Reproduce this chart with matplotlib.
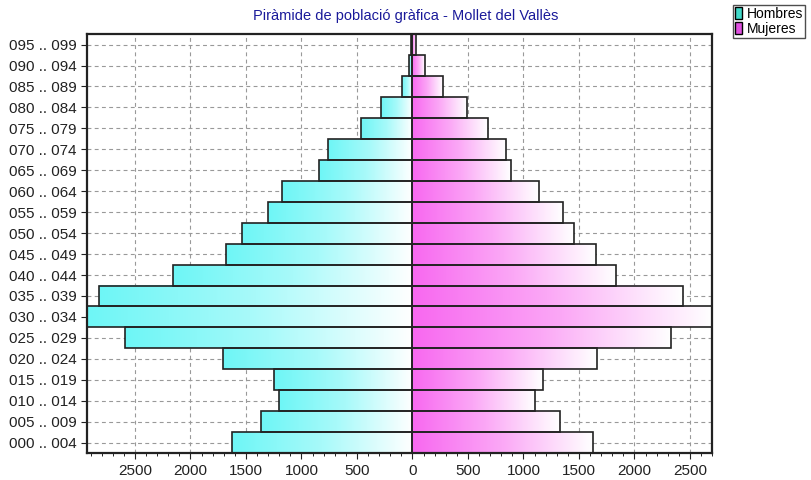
import numpy as np
import matplotlib
matplotlib.use("Agg")
import matplotlib.pyplot as plt
from matplotlib.colors import LinearSegmentedColormap
from matplotlib.patches import Patch
from matplotlib.ticker import MultipleLocator, FuncFormatter

plt.rcParams["font.family"] = ["Liberation Sans", "DejaVu Sans"]

# Grupos de edad (de 0-4 a 95-99)
grupos = ["000 .. 004", "005 .. 009", "010 .. 014", "015 .. 019", "020 .. 024",
          "025 .. 029", "030 .. 034", "035 .. 039", "040 .. 044", "045 .. 049",
          "050 .. 054", "055 .. 059", "060 .. 064", "065 .. 069", "070 .. 074",
          "075 .. 079", "080 .. 084", "085 .. 089", "090 .. 094", "095 .. 099"]

hombres = [1628, 1364, 1200, 1250, 1705, 2588, 2933, 2828, 2160, 1677,
           1537, 1300, 1173, 845, 760, 466, 285, 95, 28, 10]
mujeres = [1628, 1325, 1103, 1178, 1664, 2326, 2700, 2437, 1837, 1651,
           1453, 1352, 1136, 887, 839, 677, 491, 279, 113, 30]

cmap_h = LinearSegmentedColormap.from_list("h", ["#6ef6f6", "#a8fafa", "#ffffff"])
cmap_m = LinearSegmentedColormap.from_list("m", ["#f868f0", "#fba8f6", "#ffffff"])
grad = np.linspace(0, 1, 256).reshape(1, -1)

fig = plt.figure(figsize=(8.12, 4.8), dpi=100)
ax = fig.add_axes([0.107, 0.056, 0.77, 0.873])

y = np.arange(len(grupos))
# Relleno en degradado de cada barra
for i, (h, m) in enumerate(zip(hombres, mujeres)):
    ax.imshow(grad, cmap=cmap_h, extent=[-h, 0, i - 0.5, i + 0.5],
              aspect="auto", zorder=2, interpolation="bilinear")
    ax.imshow(grad, cmap=cmap_m, extent=[0, m, i - 0.5, i + 0.5],
              aspect="auto", zorder=2, interpolation="bilinear")

# Contornos de las barras
ax.barh(y, [-v for v in hombres], height=1.0, fill=False,
        edgecolor="#222222", linewidth=1.2, zorder=3)
ax.barh(y, mujeres, height=1.0, fill=False,
        edgecolor="#222222", linewidth=1.2, zorder=3)

ax.set_xlim(-max(hombres), max(mujeres))
ax.set_ylim(-0.5, len(grupos) - 0.5)
ax.set_yticks(y)
ax.set_yticklabels(grupos)
ax.xaxis.set_major_locator(MultipleLocator(500))
ax.xaxis.set_minor_locator(MultipleLocator(100))
ax.xaxis.set_major_formatter(FuncFormatter(lambda v, p: f"{abs(int(v))}"))
ax.tick_params(axis="both", labelsize=11, colors="#222222", length=4)
ax.tick_params(axis="x", which="minor", length=2)
ax.grid(True, linestyle=(0, (3.5, 3)), color="#999999", linewidth=0.8, zorder=0)
ax.set_axisbelow(True)
for s in ax.spines.values():
    s.set_linewidth(1.6)
    s.set_color("#222222")

fig.text(0.5, 0.958, "Piràmide de població gràfica - Mollet del Vallès",
         ha="center", fontsize=10.5, color="#1a1a9a")

handles = [Patch(facecolor="#40d8c8", edgecolor="black", label="Hombres"),
           Patch(facecolor="#e050e0", edgecolor="black", label="Mujeres")]
leg = fig.legend(handles=handles, loc="upper left", bbox_to_anchor=(0.903, 0.99),
                 fontsize=10, frameon=True, fancybox=False, edgecolor="#222222",
                 handlelength=0.5, handleheight=1.0, handletextpad=0.3,
                 borderpad=0.15, labelspacing=0.05, borderaxespad=0)
leg.get_frame().set_linewidth(1.0)

fig.savefig("out.png", dpi=100)
